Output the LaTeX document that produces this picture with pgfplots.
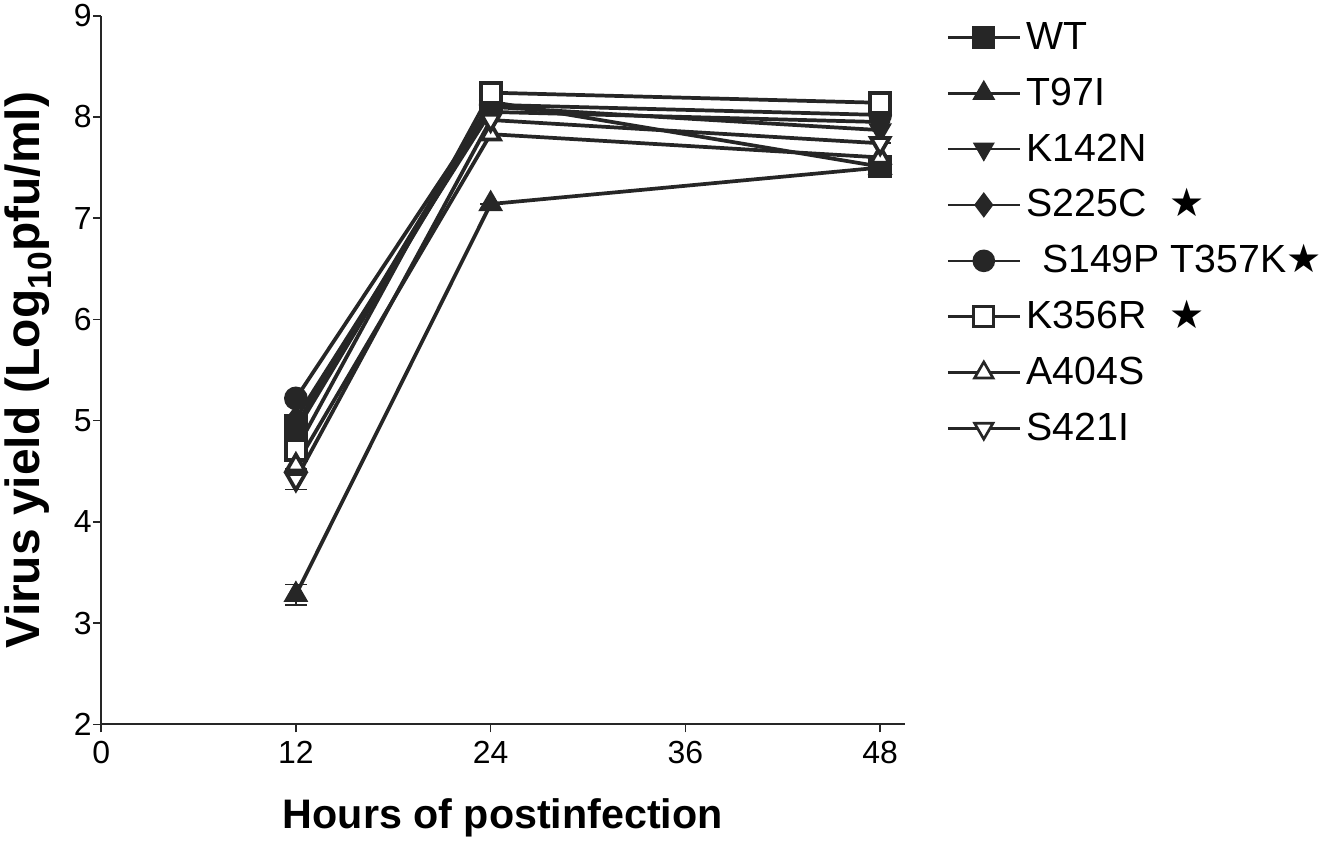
\documentclass[border=0pt]{standalone}
\usepackage{pgfplots}
\pgfplotsset{compat=1.18}
\usepackage{fontspec}
\setmainfont{Liberation Sans}
\newfontfamily\dejavu{DejaVu Sans}
\begin{document}
\begin{tikzpicture}
\begin{axis}[
  scale only axis,
  width=603.75pt, height=532.5pt,
  xmin=0, xmax=49.5, ymin=2, ymax=9,
  axis lines*=left,
  axis line style={line width=1.6pt, black!85, -},
  xtick={0,12,24,36,48}, ytick={2,3,4,5,6,7,8,9},
  tick style={line width=1.2pt, black!85},
  tickwidth=6pt,
  tick align=outside,
  /pgf/number format/assume math mode=true,
  ticklabel style={font=\fontsize{24}{24}\selectfont},
  xticklabel style={yshift=-3pt},
  yticklabel style={inner xsep=1pt},
  every axis x label/.style={at={(axis description cs:0.5,0)}, anchor=center, yshift=-70pt},
  every axis y label/.style={at={(axis description cs:0,0.5)}, rotate=90, anchor=center, yshift=55pt},
  xlabel={\bfseries Hours of postinfection},
  ylabel={\bfseries Virus yield (Log\textsubscript{10}pfu/ml)},
  xlabel style={font=\fontsize{31}{31}\selectfont},
  ylabel style={font=\fontsize{36}{36}\selectfont},
  every axis plot/.append style={line width=2.8pt, black!85, solid, mark options={solid, line width=1.2pt}},
  legend style={draw=none, fill=none, at={(rel axis cs:1.047,1.0)}, anchor=north west,
    font=\fontsize{29.5}{29.5}\selectfont,
    nodes={text height=23pt, text depth=5pt, inner ysep=0pt, inner xsep=4pt},
    row sep=14pt},
  legend cell align=left,
  legend image code/.code={\draw[mark repeat=2,mark phase=2,#1,line width=2pt] plot coordinates {(0pt,0pt)(27pt,0pt)(54pt,0pt)};},
]
\addplot[mark=square*, mark size=7.5pt, mark options={fill=black!85}] coordinates {(12,4.95) (24,8.15) (48,7.51)};
\addlegendentry{WT}
\addplot[mark=triangle*, mark size=8pt, mark options={fill=black!85},
  error bars/.cd, y dir=both, y explicit, error bar style={line width=1.2pt}, error mark options={rotate=90, mark size=8pt, line width=1.2pt}]
  coordinates {(12,3.28) +- (0,0.1) (24,7.14) +- (0,0) (48,7.5) +- (0,0)};
\addlegendentry{T97I}
\addplot[mark=triangle*, mark size=7.5pt, mark options={fill=black!85, rotate=180}] coordinates {(12,4.9) (24,8.1) (48,7.87)};
\addlegendentry{K142N}
\addplot[mark=diamond*, mark size=8pt, mark options={fill=black!85}] coordinates {(12,5.02) (24,8.05) (48,7.95)};
\addlegendentry{S225C\hspace{0.6em}{\dejavu ★}}
\addplot[mark=*, mark size=7.5pt, mark options={fill=black!85}] coordinates {(12,5.22) (24,8.12) (48,8.02)};
\addlegendentry{\hspace{0.4em}S149P T357K{\dejavu ★}}
\addplot[mark=square*, mark size=7.5pt, mark options={fill=white}] coordinates {(12,4.71) (24,8.24) (48,8.14)};
\addlegendentry{K356R\hspace{0.6em}{\dejavu ★}}
\addplot[mark=triangle*, mark size=8pt, mark options={fill=white}] coordinates {(12,4.56) (24,7.83) (48,7.6)};
\addlegendentry{A404S}
\addplot[mark=triangle*, mark size=8pt, mark options={fill=white, rotate=180},
  error bars/.cd, y dir=both, y explicit, error bar style={line width=1.2pt}, error mark options={rotate=90, mark size=8pt, line width=1.2pt}]
  coordinates {(12,4.42) +- (0,0.1) (24,7.97) +- (0,0) (48,7.74) +- (0,0)};
\addlegendentry{S421I}
\end{axis}
\end{tikzpicture}
\end{document}
